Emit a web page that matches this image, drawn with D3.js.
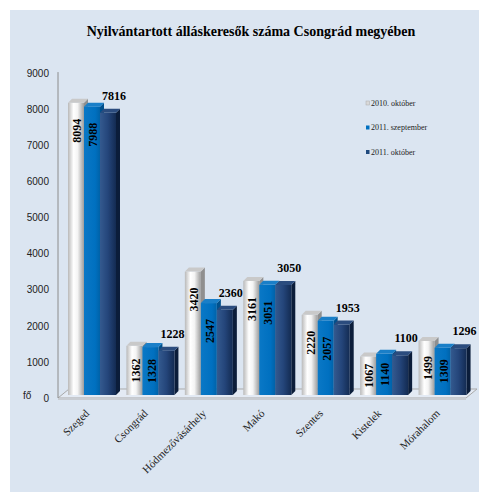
<!DOCTYPE html>
<html>
<head>
<meta charset="utf-8">
<script src="https://cdn.jsdelivr.net/npm/d3@7/dist/d3.min.js"></script>
<style>
  body { margin: 0; background: #fff; }
  #chart { width: 479px; height: 494px; }
</style>
</head>
<body>
<div id="chart"></div>
<script>
// data
const categories = ["Szeged", "Csongrád", "Hódmezővásárhely", "Makó", "Szentes", "Kistelek", "Mórahalom"];
const seriesNames = ["2010. október", "2011. szeptember", "2011. október"];
const okt2010 = [8094, 1362, 3420, 3161, 2220, 1067, 1499];
const szept2011 = [7988, 1328, 2547, 3051, 2057, 1140, 1309];
const okt2011 = [7816, 1228, 2360, 3050, 1953, 1100, 1296];
const yTicks = [0, 1000, 2000, 3000, 4000, 5000, 6000, 7000, 8000, 9000];
const title = "Nyilvántartott álláskeresők száma Csongrád megyében";
const unitLabel = "fő";

const width = 479, height = 494;
const base = 395;      // front baseline of bars
const depth = 4;       // 3d offset of a bar
const serif = "'Liberation Serif', 'Times New Roman', serif";
const sans = "'Liberation Sans', Arial, sans-serif";

const svg = d3.select("#chart").append("svg")
  .attr("width", width).attr("height", height);

const defs = svg.append("defs");
function hGrad(id, stops) {
  const g = defs.append("linearGradient").attr("id", id)
    .attr("x1", "0%").attr("x2", "100%").attr("y1", "0%").attr("y2", "0%");
  stops.forEach(s => g.append("stop").attr("offset", s[0]).attr("stop-color", s[1]));
}
hGrad("gWhite", [["0%", "#b9b9b9"], ["35%", "#ffffff"], ["60%", "#f4f4f4"], ["100%", "#9c9c9c"]]);
hGrad("gBlue", [["0%", "#0a78c6"], ["70%", "#0070c0"], ["100%", "#0062a8"]]);
hGrad("gNavy", [["0%", "#345a8f"], ["50%", "#24457a"], ["100%", "#132b52"]]);

const colors = [
  { front: "url(#gWhite)", top: "#c9c9c9", side: "#8f8f8f", legend: "#d9d9d9" },
  { front: "url(#gBlue)", top: "#1a7fc8", side: "#00508c", legend: "#0070c0" },
  { front: "url(#gNavy)", top: "#2b4c7e", side: "#0b1d3a", legend: "#1f497d" }
];

// background panel
svg.append("rect").attr("x", 10).attr("y", 10).attr("width", 469).attr("height", 482)
  .attr("fill", "#dbe5f1");

svg.append("text")
  .attr("x", 251).attr("y", 36)
  .attr("text-anchor", "middle")
  .style("font-family", serif).style("font-weight", "bold").style("font-size", "14px")
  .text(title);

// scales
const x = d3.scaleBand().domain(categories).range([58, 467]);
const xs = d3.scaleBand().domain(seriesNames).range([10, 58]);
const y = d3.scaleLinear().domain([0, 9000]).range([base, base - 9000 * 0.0361]);

// floor
const floor = svg.append("g").attr("class", "floor");
floor.append("path")
  .attr("d", `M58,398 L466,398 L477,389 L69,389 Z`)
  .attr("fill", "#e3eaf4").attr("stroke", "#a9a9a9").attr("stroke-width", 1);
floor.append("path")
  .attr("d", `M58,398 L466,398 L466,400 L58,400 Z`)
  .attr("fill", "#c8ccd2");

// y axis
const yAxis = svg.append("g")
  .attr("transform", "translate(58,3)")
  .call(d3.axisLeft(y).tickValues(yTicks).tickFormat(d3.format("d")).tickSize(0).tickPadding(9));
yAxis.select(".domain").attr("stroke", "#8c8c8c").attr("d", `M0,${y(9000) - 1}V${y(0)}`);
yAxis.selectAll("text")
  .style("font-family", sans).style("font-size", "10px").attr("fill", "#222");

svg.append("text")
  .attr("x", 23).attr("y", 399)
  .style("font-family", sans).style("font-size", "10px").attr("fill", "#222")
  .text(unitLabel);

// bars
const seriesValues = [okt2010, szept2011, okt2011];
const bars = [];
categories.forEach((c, i) => {
  seriesValues.forEach((vals, s) => {
    bars.push({ cat: c, s: s, v: vals[i] });
  });
});

const barW = xs.bandwidth();
const gBars = svg.append("g").attr("class", "bars");
const bar = gBars.selectAll("g.bar").data(bars).enter().append("g").attr("class", "bar");

bar.append("path") // side
  .attr("d", d => {
    const x1 = x(d.cat) + xs(seriesNames[d.s]) + barW, yt = y(d.v);
    return `M${x1},${yt} L${x1 + depth},${yt - depth} L${x1 + depth},${base - depth} L${x1},${base} Z`;
  })
  .attr("fill", d => colors[d.s].side);

bar.append("rect") // front
  .attr("x", d => x(d.cat) + xs(seriesNames[d.s]))
  .attr("y", d => y(d.v))
  .attr("width", barW)
  .attr("height", d => base - y(d.v))
  .attr("fill", d => colors[d.s].front);

bar.append("path") // top
  .attr("d", d => {
    const x0 = x(d.cat) + xs(seriesNames[d.s]), yt = y(d.v);
    return `M${x0},${yt} L${x0 + depth},${yt - depth} L${x0 + barW + depth},${yt - depth} L${x0 + barW},${yt} Z`;
  })
  .attr("fill", d => colors[d.s].top);

// value labels: first two series vertical inside, third above
gBars.selectAll("text.inner").data(bars.filter(d => d.s < 2)).enter().append("text")
  .attr("class", "inner")
  .attr("transform", d => {
    const cx = x(d.cat) + xs(seriesNames[d.s]) + barW / 2 + 1;
    const top = y(d.v);
    const cy = Math.min(top + 28, (top + base) / 2);
    return `translate(${cx},${cy}) rotate(-90)`;
  })
  .attr("text-anchor", "middle").attr("dy", "0.35em")
  .style("font-family", serif).style("font-weight", "bold").style("font-size", "12px")
  .attr("fill", "#000")
  .text(d => d.v);

gBars.selectAll("text.outer").data(bars.filter(d => d.s === 2)).enter().append("text")
  .attr("class", "outer")
  .attr("x", d => x(d.cat) + xs(seriesNames[d.s]) + barW / 2 + 6)
  .attr("y", d => y(d.v) - 17)
  .attr("text-anchor", "middle").attr("dy", "0.35em")
  .style("font-family", serif).style("font-weight", "bold").style("font-size", "12px")
  .attr("fill", "#000")
  .text(d => d.v);

// category labels
svg.selectAll("text.cat").data(categories).enter().append("text")
  .attr("class", "cat")
  .attr("transform", d => `translate(${x(d) + 32},${414}) rotate(-45)`)
  .attr("text-anchor", "end")
  .style("font-family", serif).style("font-size", "11px").attr("fill", "#222")
  .text(d => d);

// legend
const legend = svg.append("g").attr("transform", "translate(366,103)");
const li = legend.selectAll("g").data(seriesNames).enter().append("g")
  .attr("transform", (d, i) => `translate(0,${i * 24.5})`);
li.append("rect").attr("x", 0).attr("y", -2).attr("width", 3.5).attr("height", 4)
  .attr("fill", (d, i) => colors[i].legend)
  .attr("stroke", (d, i) => i === 0 ? "#aaa" : "none").attr("stroke-width", 0.5);
li.append("text").attr("x", 5).attr("dy", "0.35em")
  .style("font-family", serif).style("font-size", "8px").attr("fill", "#222")
  .text(d => d);
</script>
</body>
</html>
